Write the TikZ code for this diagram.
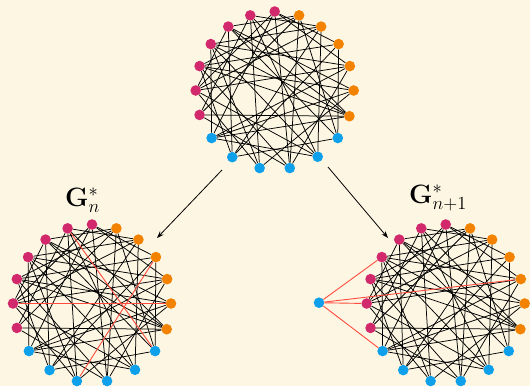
\documentclass[tikz,border=0pt]{standalone}
\usetikzlibrary{arrows.meta}
\definecolor{bg}{HTML}{FDF6E3}
\definecolor{cmag}{HTML}{D2286C}
\definecolor{corg}{HTML}{F28200}
\definecolor{cblu}{HTML}{0EA0EB}
\definecolor{cred}{HTML}{FF4B3E}
\tikzset{
  vtx/.style={circle,inner sep=0pt,minimum size=10.6pt,draw=none},
  vm/.style={vtx,fill=cmag},
  vo/.style={vtx,fill=corg},
  vb/.style={vtx,fill=cblu},
  edge/.style={black,line width=0.75pt},
  redge/.style={cred,line width=0.9pt},
  arr/.style={black,line width=0.8pt,-{Stealth[length=7pt,width=5pt]}},
  lbl/.style={font=\huge,inner sep=0pt}
}
\newcommand{\mygraph}[3]{%
  \foreach \a [count=\i from 0] in {0,18,36,54,72,90,108,126,144,162,180,198,217,237.5,259,281,303,323,341}{%
    \ifnum\i<5 \def\st{vo}\else\ifnum\i<12 \def\st{vm}\else\ifnum\i<18 \def\st{vb}\else\def\st{vo}\fi\fi\fi
    \node[\st] (#1\i) at ({#2+79*cos(\a)},{#3-79*sin(\a)}) {};
  }%
  \foreach \u/\v in {0/9,0/12,0/7,0/14,1/5,1/8,1/12,1/15,1/10,2/5,2/9,2/17,2/13,
    3/6,3/16,3/10,3/13,3/8,4/7,4/15,4/11,4/17,4/9,5/15,5/12,5/10,
    6/14,6/18,6/11,6/16,7/13,7/17,7/18,7/10,8/12,8/14,8/16,8/18,
    9/13,9/15,9/18,10/14,10/16,11/15,11/18,12/16,12/18,13/17}{%
    \draw[edge] (#1\u) -- (#1\v);
  }%
}
\begin{document}
\begin{tikzpicture}[x=1pt,y=-1pt]
\fill[bg] (0,0) rectangle (530,386);
\useasboundingbox (0,0) rectangle (530,386);
% top graph
\mygraph{t}{274.7}{90.5}
% lower left
\mygraph{l}{92}{303.5}
\draw[redge] (l6) -- (l17);
\draw[redge] (l10) -- (l0);
\draw[redge] (l2) -- (l14);
% lower right
\mygraph{r}{445.7}{303.5}
\node[vb] (x) at (319,302.7) {};
\draw[redge] (x) -- (r8);
\draw[redge] (x) -- (r10);
\draw[redge] (x) -- (r1);
\draw[redge] (x) -- (r12);
% labels
\node[lbl,anchor=base west] (gn) at (65,206) {\scalebox{1.28}{$\mathbf{G}^{*}_{n}$}};
\node[lbl,anchor=base west] (gn1) at (409,203) {\scalebox{1.28}{$\mathbf{G}^{*}_{n+1}$}};
% arrows
\coordinate (a1s) at (222,170);
\coordinate (a1e) at (157,238);
\coordinate (a2s) at (328,167);
\coordinate (a2e) at (388,238);
\draw[arr] (a1s) -- (a1e);
\draw[arr] (a2s) -- (a2e);
\end{tikzpicture}
\end{document}
